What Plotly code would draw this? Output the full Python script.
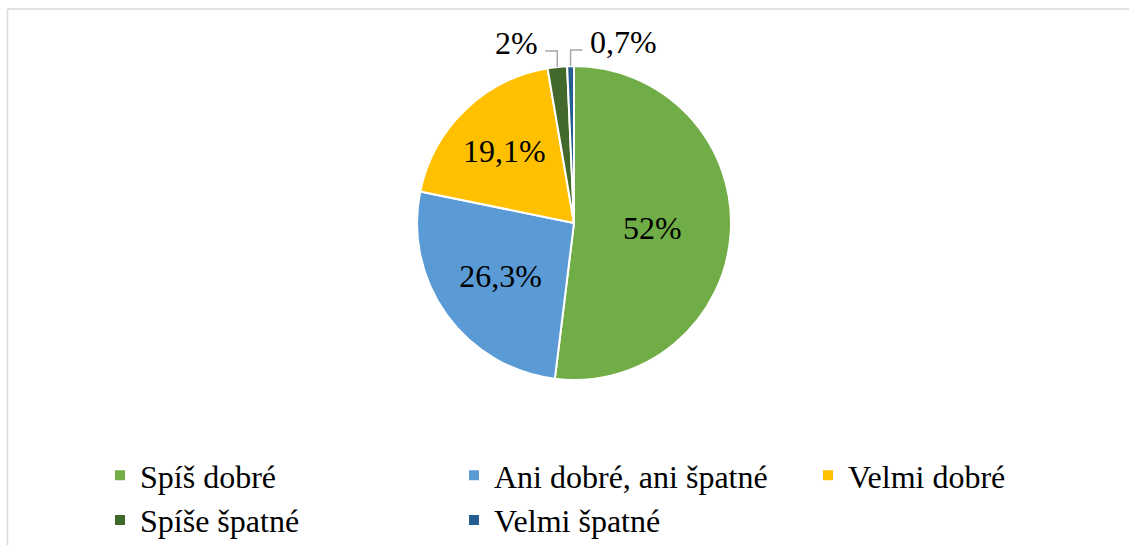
import math
import plotly.graph_objects as go

labels = ["Spíš dobré", "Ani dobré, ani špatné", "Velmi dobré", "Spíše špatné", "Velmi špatné"]
values = [52, 26.3, 19.1, 2, 0.7]
colors = ["#70AD47", "#5B9BD5", "#FFC000", "#43682B", "#255E91"]
text_labels = [(f"{v:g}%").replace(".", ",") for v in values]
# small slices get external labels with leader lines (side of the label)
outside_side = [None, None, None, "left", "right"]

W, H = 1129, 545
FONT = "Liberation Serif, Times New Roman, serif"
FS = 32

# pie geometry (pixels in figure space)
CX, CY, R = 574, 223, 157
dom_x = [(CX - R) / W, (CX + R) / W]
dom_y = [1 - (CY + R) / H, 1 - (CY - R) / H]

inside_text = [t if s is None else "" for t, s in zip(text_labels, outside_side)]

fig = go.Figure(go.Pie(
    labels=labels,
    values=values,
    text=inside_text,
    textinfo="text",
    textposition="inside",
    insidetextorientation="horizontal",
    sort=False,
    direction="clockwise",
    rotation=0,
    marker=dict(colors=colors, line=dict(color="white", width=2)),
    insidetextfont=dict(family=FONT, size=FS, color="black"),
    domain=dict(x=dom_x, y=dom_y),
    hoverinfo="label+percent",
))


def px2paper(x, y):
    return x / W, 1 - y / H


shapes = [
    dict(type="line", xref="paper", yref="paper",
         x0=7.5 / W, x1=1, y0=1 - 9 / H, y1=1 - 9 / H,
         line=dict(color="#D9D9D9", width=1.5)),
    dict(type="line", xref="paper", yref="paper",
         x0=7.5 / W, x1=7.5 / W, y0=1 - 9 / H, y1=0,
         line=dict(color="#D9D9D9", width=1.5)),
]
annotations = []

total = sum(values)
cum = 0.0
for v, txt, side in zip(values, text_labels, outside_side):
    mid = (cum + v / 2) / total * 2 * math.pi
    cum += v
    if side is None:
        continue
    ex = CX + R * math.sin(mid)
    ey = CY - R * math.cos(mid)
    rise, run, gap = 16, 12, 5
    sgn = -1 if side == "left" else 1
    ky = ey - rise
    kx2 = ex + sgn * run
    p0 = px2paper(ex, ey)
    p1 = px2paper(ex, ky)
    p2 = px2paper(kx2, ky)
    shapes.append(dict(
        type="path", xref="paper", yref="paper",
        path=f"M {p0[0]} {p0[1]} L {p1[0]} {p1[1]} L {p2[0]} {p2[1]}",
        line=dict(color="#A6A6A6", width=1.5),
    ))
    tx, ty = px2paper(kx2 + sgn * gap, ky - 8)
    annotations.append(dict(
        xref="paper", yref="paper", x=tx, y=ty,
        text=txt, showarrow=False,
        xanchor="right" if side == "left" else "left", yanchor="middle",
        font=dict(family=FONT, size=FS, color="black"),
    ))

fig.update_layout(
    width=W, height=H,
    margin=dict(l=0, r=0, t=0, b=0, autoexpand=False),
    paper_bgcolor="white",
    plot_bgcolor="white",
    showlegend=True,
    legend=dict(
        orientation="h",
        x=100 / W, xanchor="left",
        y=1 - 448 / H, yanchor="top",
        entrywidth=309, entrywidthmode="pixels",
        font=dict(family=FONT, size=FS, color="black"),
        traceorder="normal",
        itemclick=False,
    ),
    shapes=shapes,
    annotations=annotations,
)

fig.write_html("out.html", config={"displayModeBar": False},
               post_script="document.body.style.margin='0';")
